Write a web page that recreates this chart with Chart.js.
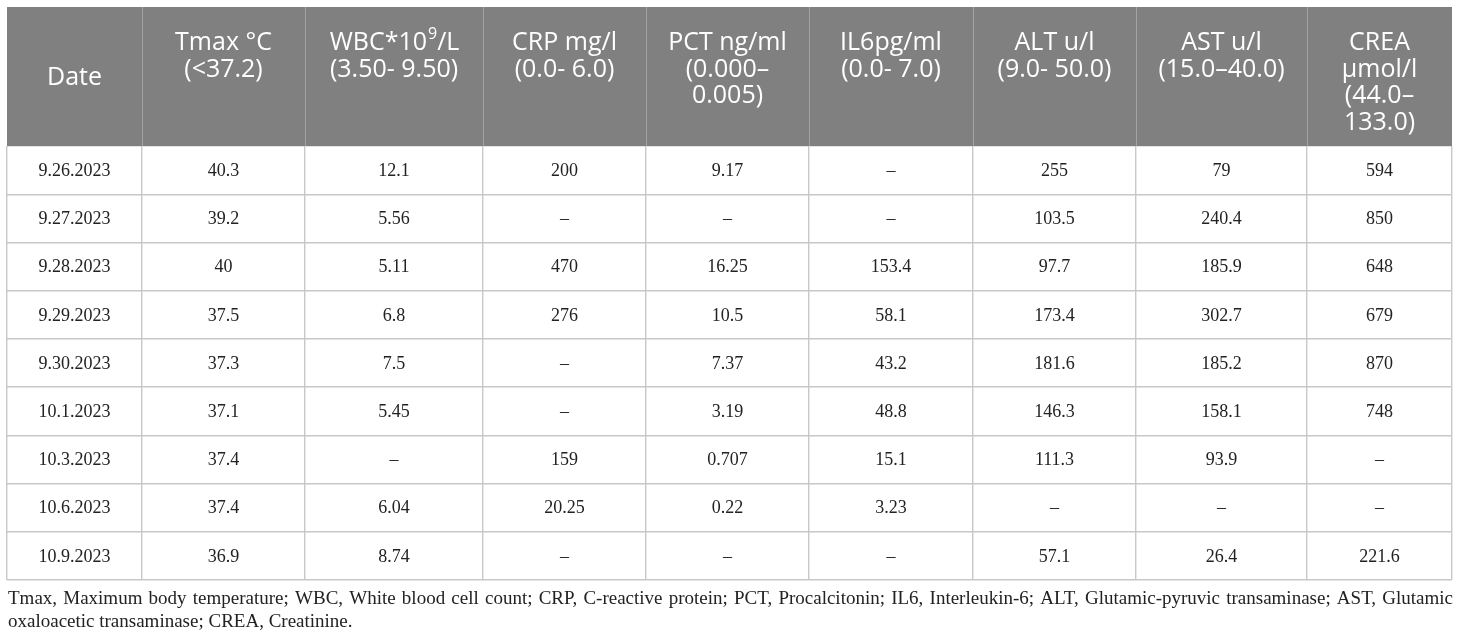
<!DOCTYPE html>
<html lang="en">
<head>
<meta charset="UTF-8">
<title>Laboratory results 9.26.2023 – 10.9.2023</title>
<script src="https://cdn.jsdelivr.net/npm/chart.js"></script>
<style>
    body{margin:0;padding:0;background:#fff;}
    .wrap{width:1460px;height:640px;position:relative;}
</style>
</head>
<body>
<div class="wrap"><canvas id="labTable"></canvas></div>
<script>
/* ==== data ==== */
const dates = ['9.26.2023','9.27.2023','9.28.2023','9.29.2023','9.30.2023',
               '10.1.2023','10.3.2023','10.6.2023','10.9.2023'];
const tmax = [40.3, 39.2, 40, 37.5, 37.3, 37.1, 37.4, 37.4, 36.9];
const wbc  = [12.1, 5.56, 5.11, 6.8, 7.5, 5.45, null, 6.04, 8.74];
const crp  = [200, null, 470, 276, null, null, 159, 20.25, null];
const pct  = [9.17, null, 16.25, 10.5, 7.37, 3.19, 0.707, 0.22, null];
const il6  = [null, null, 153.4, 58.1, 43.2, 48.8, 15.1, 3.23, null];
const alt  = [255, 103.5, 97.7, 173.4, 181.6, 146.3, 111.3, null, 57.1];
const ast  = [79, 240.4, 185.9, 302.7, 185.2, 158.1, 93.9, null, 26.4];
const crea = [594, 850, 648, 679, 870, 748, null, null, 221.6];

const columnHeads = [
    ['Date'],
    ['Tmax °C', '(<37.2)'],
    ['WBC*10^9/L', '(3.50- 9.50)'],
    ['CRP mg/l', '(0.0- 6.0)'],
    ['PCT ng/ml', '(0.000–', '0.005)'],
    ['IL6pg/ml', '(0.0- 7.0)'],
    ['ALT u/l', '(9.0- 50.0)'],
    ['AST u/l', '(15.0–40.0)'],
    ['CREA', 'µmol/l', '(44.0–', '133.0)']
];
const footnote = [
    'Tmax, Maximum body temperature; WBC, White blood cell count; CRP, C-reactive protein; PCT, Procalcitonin; IL6, Interleukin-6; ALT, Glutamic-pyruvic transaminase; AST, Glutamic',
    'oxaloacetic transaminase; CREA, Creatinine.'
];

/* ==== layout ==== */
const colWidths = [135, 163, 178, 163, 163, 164, 163, 171, 145];
const headerHeight = 139;
const serif = '"Liberation Serif","Times New Roman",serif';
const sans  = '"Open Sans","Noto Sans",sans-serif';

const edges = colWidths.reduce((a, w) => { a.push(a[a.length - 1] + w); return a; }, [0]);
const total = edges[edges.length - 1];
const colCenter = k => edges[k] + colWidths[k] / 2;

const series = [dates, tmax, wbc, crp, pct, il6, alt, ast, crea];

/* ==== drawing ==== */
const tablePlugin = {
    id: 'tableText',
    afterDatasetsDraw(chart) {
        const ctx = chart.ctx;
        ctx.save();
        ctx.font = '18px ' + serif;
        ctx.fillStyle = '#222';
        ctx.textAlign = 'center';
        ctx.textBaseline = 'middle';
        chart.data.datasets.forEach((ds, i) => {
            chart.getDatasetMeta(i).data.forEach((pt, j) => {
                const v = ds.data[j].v;
                ctx.fillText(v == null ? '–' : String(v), pt.x, pt.y + 1);
            });
        });
        ctx.restore();
    },
    afterDraw(chart) {
        const ctx = chart.ctx;
        const x = chart.scales.x;
        const top = chart.chartArea.top - headerHeight;
        const left = x.getPixelForValue(0), right = x.getPixelForValue(total);

        // header band
        ctx.save();
        ctx.fillStyle = '#808080';
        ctx.fillRect(left, top, right - left, headerHeight);
        ctx.strokeStyle = '#a3a3a3';
        ctx.lineWidth = 1;
        edges.slice(1, -1).forEach(e => {
            const px = Math.round(x.getPixelForValue(e)) + 0.5;
            ctx.beginPath(); ctx.moveTo(px, top); ctx.lineTo(px, top + headerHeight); ctx.stroke();
        });

        ctx.fillStyle = '#fff';
        ctx.textBaseline = 'middle';
        const mainFont = '25px ' + sans, supFont = '16px ' + sans;
        columnHeads.forEach((lines, k) => {
            const cx = x.getPixelForValue(colCenter(k));
            lines.forEach((line, n) => {
                const y = lines.length === 1 ? top + headerHeight / 2 + 1 : top + 36 + n * 26.5;
                const m = line.match(/^(.*)\^(\S)(.*)$/);
                if (m) {
                    ctx.font = mainFont; const w1 = ctx.measureText(m[1]).width, w3 = ctx.measureText(m[3]).width;
                    ctx.font = supFont;  const w2 = ctx.measureText(m[2]).width;
                    let sx = cx - (w1 + w2 + w3) / 2;
                    ctx.textAlign = 'left';
                    ctx.font = mainFont; ctx.fillText(m[1], sx, y);
                    ctx.font = supFont;  ctx.fillText(m[2], sx + w1 + 1, y - 9);
                    ctx.font = mainFont; ctx.fillText(m[3], sx + w1 + w2 + 1, y);
                } else {
                    ctx.textAlign = 'center';
                    ctx.font = mainFont;
                    ctx.fillText(line, cx, y);
                }
            });
        });

        // footnote, first line justified to the table width
        ctx.fillStyle = '#222';
        let fs = 19;
        ctx.font = fs + 'px ' + serif;
        const natural = ctx.measureText(footnote[0]).width;
        if (natural > right - left - 20) {
            fs = fs * (right - left - 20) / natural;
            ctx.font = fs.toFixed(2) + 'px ' + serif;
        }
        ctx.textAlign = 'left';
        const fy = chart.chartArea.bottom + 19;
        footnote.forEach((line, n) => {
            const y = fy + n * 23;
            if (n < footnote.length - 1) {
                const words = line.split(' ');
                const ww = words.map(w => ctx.measureText(w).width);
                const gap = (right - left - ww.reduce((a, b) => a + b, 0)) / (words.length - 1);
                let px = left + 1;
                words.forEach((w, i) => { ctx.fillText(w, px, y); px += ww[i] + gap; });
            } else {
                ctx.fillText(line, left + 1, y);
            }
        });
        ctx.restore();
    }
};

new Chart(document.getElementById('labTable'), {
    type: 'scatter',
    data: {
        labels: dates,
        datasets: series.map((vals, k) => ({
            label: columnHeads[k][0],
            data: vals.map((v, i) => ({ x: colCenter(k), y: dates[i], v })),
            pointRadius: 0,
            pointHoverRadius: 0
        }))
    },
    options: {
        responsive: true,
        maintainAspectRatio: false,
        animation: false,
        events: [],
        layout: { padding: { left: 7, right: 8, top: 7 + headerHeight, bottom: 60 } },
        plugins: { legend: { display: false }, tooltip: { enabled: false } },
        scales: {
            x: {
                type: 'linear',
                min: 0,
                max: total,
                afterBuildTicks: s => { s.ticks = edges.map(v => ({ value: v })); },
                ticks: { display: false },
                grid: { color: '#c8c8c8', lineWidth: 1.4, drawTicks: false },
                border: { display: false }
            },
            y: {
                type: 'category',
                labels: dates,
                offset: true,
                ticks: { display: false },
                grid: { offset: true, color: '#c8c8c8', lineWidth: 1.4, drawTicks: false },
                border: { display: false }
            }
        }
    },
    plugins: [tablePlugin]
});
</script>
</body>
</html>
